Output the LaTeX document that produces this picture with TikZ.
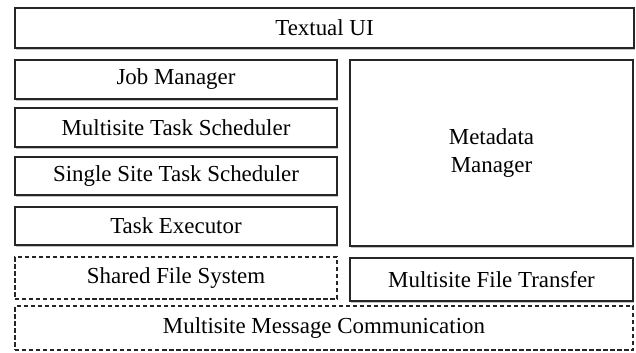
\documentclass[tikz,border=0pt]{standalone}
\usepackage{fontspec}
\setmainfont{Liberation Serif}
\usepackage{tikz}
\usetikzlibrary{positioning,shadows}

\begin{document}
\begin{tikzpicture}[x=1bp, y=-1bp,
    every node/.style={font=\fontsize{23}{29}\selectfont, align=center, inner sep=0pt},
    layerbox/.style={draw=black!85, line width=1.2bp, fill=white,
        drop shadow={shadow xshift=1bp, shadow yshift=-1.5bp, fill=black!40, opacity=0.6}},
    looselayer/.style={draw=black!85, line width=1.1bp, dash pattern=on 4.5bp off 2.5bp, fill=white}]
    \useasboundingbox (0,0) rectangle (636,352);

    % Textual UI
    \node[layerbox, minimum width=619bp, minimum height=40bp] (tui) at (324.5,28) {Textual UI};

    % Left stack
    \node[layerbox, minimum width=322bp, minimum height=39bp] (job) at (176,79.5) {Job Manager};
    \node[layerbox, minimum width=322bp, minimum height=39bp] (mts) at (176,127.5) {Multisite Task Scheduler};
    \node[layerbox, minimum width=322bp, minimum height=38bp] (sts) at (176,176) {Single Site Task Scheduler};
    \node[layerbox, minimum width=322bp, minimum height=38bp] (exec) at (176,226) {Task Executor};

    % Metadata
    \node[layerbox, minimum width=283bp, minimum height=186bp] (meta) at (491.5,153) {Metadata\\Manager};

    % File layers
    \node[looselayer, minimum width=322bp, minimum height=42bp] (sfs) at (176,278) {Shared File System};
    \node[layerbox, minimum width=283bp, minimum height=43bp] (mft) at (491.5,279.5) {Multisite File Transfer};

    % Message communication
    \node[looselayer, minimum width=618bp, minimum height=44bp] (mmc) at (324,328) {Multisite Message Communication};
\end{tikzpicture}
\end{document}
